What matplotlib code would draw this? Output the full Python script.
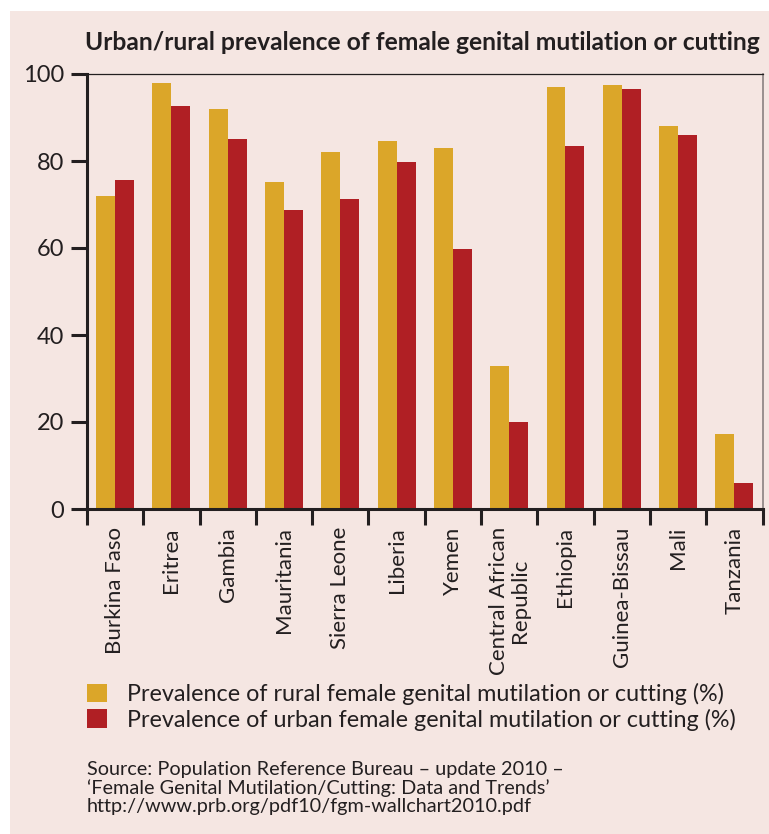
import matplotlib.pyplot as plt
import numpy as np
from matplotlib.patches import Rectangle

countries = ['Burkina Faso', 'Eritrea', 'Gambia', 'Mauritania', 'Sierra Leone', 'Liberia',
             'Yemen', 'Central African\nRepublic', 'Ethiopia', 'Guinea-Bissau', 'Mali', 'Tanzania']
rural = [72, 98, 92, 75.2, 82.1, 84.6, 83.0, 32.9, 97.1, 97.5, 88.1, 17.2]
urban = [75.7, 92.7, 85.1, 68.7, 71.3, 79.8, 59.8, 20.0, 83.5, 96.6, 86.0, 5.9]
yticks = [0, 20, 40, 60, 80, 100]

rural_color = '#dba629'
urban_color = '#b01f24'
bg = '#f5e6e2'
ink = '#231f20'

plt.rcParams['font.family'] = ['Lato', 'DejaVu Sans']
plt.rcParams['text.color'] = ink

W, H = 769, 834
fig = plt.figure(figsize=(W / 100, H / 100), dpi=100)
fig.patches.append(Rectangle((10 / W, 0), 1, 1 - 11 / H, transform=fig.transFigure,
                             facecolor=bg, edgecolor='none', zorder=-10))

ax = fig.add_axes([87 / W, (H - 509) / H, (762.5 - 87) / W, (509 - 74) / H])
ax.set_facecolor(bg)

x = np.arange(len(countries))
w = 0.337
ax.bar(x - w / 2, rural, width=w, color=rural_color, label='Prevalence of rural female genital mutilation or cutting (%)')
ax.bar(x + w / 2, urban, width=w, color=urban_color, label='Prevalence of urban female genital mutilation or cutting (%)')

ax.set_xlim(-0.5, len(countries) - 0.5)
ax.set_ylim(0, 100)
ax.set_yticks(yticks)
ax.tick_params(axis='y', length=11.5, width=2.2, pad=5, labelsize=17, colors=ink)
ax.set_xticks(x)
ax.set_xticklabels(countries, rotation=90, ha='center', va='top', fontsize=16, linespacing=1.05)
ax.set_xticks(np.arange(-0.5, len(countries)), minor=True)
ax.tick_params(axis='x', which='major', length=0, pad=13, colors=ink)
ax.tick_params(axis='x', which='minor', length=11.5, width=2.2, color=ink)

ax.spines['left'].set_linewidth(2.2)
ax.spines['bottom'].set_linewidth(2.2)
ax.spines['top'].set_linewidth(0.9)
ax.spines['right'].set_linewidth(1.2)
for s in ['left', 'bottom', 'top']:
    ax.spines[s].set_color(ink)
ax.spines['right'].set_color('#8a8080')

fig.text((86 + 758) / 2 / W, 1 - 42 / H,
         'Urban/rural prevalence of female genital mutilation or cutting',
         ha='center', va='center', fontsize=17.7, fontweight='bold')

handles, labels = ax.get_legend_handles_labels()
fig.legend(handles, labels, loc='upper left', bbox_to_anchor=(87 / W, 1 - 683 / H),
           frameon=False, fontsize=16.8, handlelength=0.86, handleheight=0.86,
           handletextpad=0.86, labelspacing=0.15, borderpad=0, borderaxespad=0)

fig.text(87 / W, 1 - 761 / H,
         'Source: Population Reference Bureau \u2013 update 2010 \u2013\n'
         '\u2018Female Genital Mutilation/Cutting: Data and Trends\u2019\n'
         'http://www.prb.org/pdf10/fgm-wallchart2010.pdf',
         ha='left', va='top', fontsize=14.3, linespacing=1.07)

fig.savefig('out.png', dpi=100, facecolor='white')
